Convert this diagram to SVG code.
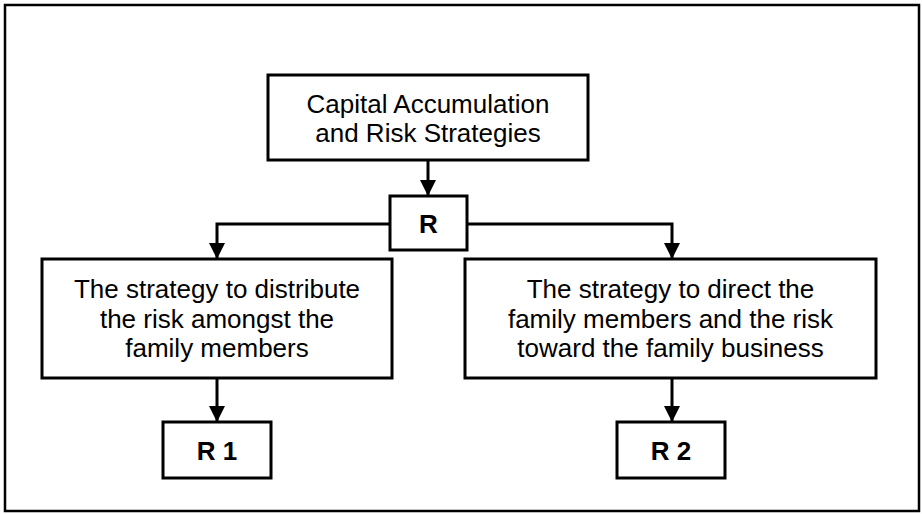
<svg xmlns="http://www.w3.org/2000/svg" width="922" height="514" viewBox="0 0 922 514">
<style>
.box{fill:#fff;stroke:#000;stroke-width:3}
.t{font-family:"Liberation Sans",Arial,sans-serif;font-size:26px;fill:#000;text-anchor:middle}
.b{font-weight:bold}
.c{fill:none;stroke:#000;stroke-width:3}
</style>
<defs>
<marker id="ah" markerUnits="userSpaceOnUse" markerWidth="16" markerHeight="18" refX="16" refY="8" orient="auto" viewBox="0 0 16 16">
<path d="M0,0 L16,8 L0,16 Z" fill="#000"/>
</marker>
</defs>
<rect x="5" y="5" width="914" height="506" fill="#fff" stroke="#000" stroke-width="2.5"/>
<g id="connectors">
<path class="c" d="M428,160 V196" marker-end="url(#ah)"/>
<path class="c" d="M390,224 H217 V259" marker-end="url(#ah)"/>
<path class="c" d="M467,224 H672 V259" marker-end="url(#ah)"/>
<path class="c" d="M217,378 V422" marker-end="url(#ah)"/>
<path class="c" d="M672,378 V422" marker-end="url(#ah)"/>
</g>
<g id="top">
<rect class="box" x="268" y="75" width="320" height="85"/>
<text class="t" x="428" y="113">Capital Accumulation</text>
<text class="t" x="428" y="142">and Risk Strategies</text>
</g>
<g id="r">
<rect class="box" x="390" y="196" width="77" height="54"/>
<text class="t b" x="428.5" y="233">R</text>
</g>
<g id="left">
<rect class="box" x="42" y="259" width="350" height="119"/>
<text class="t" x="217" y="298">The strategy to distribute</text>
<text class="t" x="217" y="328">the risk amongst the</text>
<text class="t" x="217" y="357">family members</text>
</g>
<g id="right">
<rect class="box" x="465" y="259" width="411" height="119"/>
<text class="t" x="670.5" y="298">The strategy to direct the</text>
<text class="t" x="670.5" y="328">family members and the risk</text>
<text class="t" x="670.5" y="357">toward the family business</text>
</g>
<g id="r1">
<rect class="box" x="163" y="422" width="108" height="56"/>
<text class="t b" x="217" y="460">R 1</text>
</g>
<g id="r2">
<rect class="box" x="617" y="422" width="108" height="56"/>
<text class="t b" x="671" y="460">R 2</text>
</g>
</svg>
